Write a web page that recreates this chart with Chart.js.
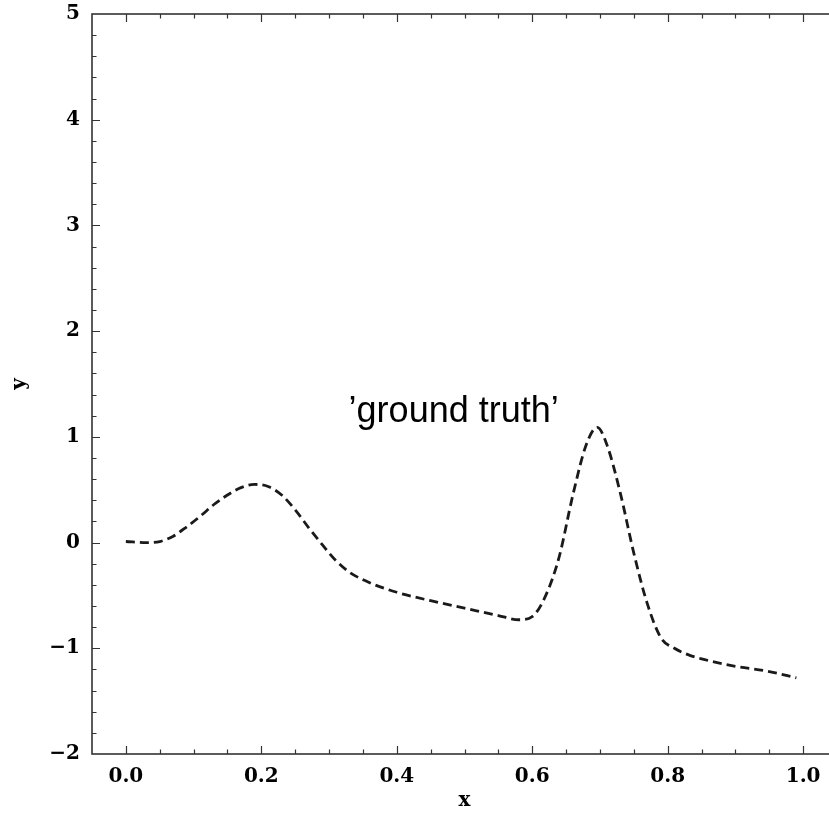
<!DOCTYPE html>
<html>
<head>
<meta charset="utf-8">
<script src="https://cdn.jsdelivr.net/npm/chart.js@4/dist/chart.umd.min.js"></script>
<style>
  html, body { margin: 0; padding: 0; overflow: hidden; background: #fff; }
  #wrap { width: 845px; height: 820px; }
</style>
</head>
<body>
<div id="wrap"><canvas id="chart" width="845" height="820"></canvas></div>
<script>
// Curve
const xValues = [0.00, 0.03, 0.05, 0.07, 0.09, 0.11, 0.13, 0.15, 0.17, 0.19, 0.21, 0.23, 0.25, 0.27, 0.29, 0.31, 0.33, 0.36,
  0.40, 0.45, 0.50, 0.55, 0.58, 0.60, 0.62, 0.64, 0.66, 0.68, 0.696, 0.71, 0.73, 0.75, 0.77, 0.79, 0.81, 0.83, 0.85, 0.90, 0.95, 0.99]
const yValues = [0.01, 0.00, 0.01, 0.06, 0.15, 0.25, 0.36, 0.45, 0.52, 0.55, 0.53, 0.45, 0.31, 0.14, -0.02, -0.17, -0.28, -0.38,
  -0.47, -0.55, -0.62, -0.69, -0.73, -0.70, -0.50, -0.13, 0.45, 0.93, 1.09, 0.93, 0.47, -0.10, -0.58, -0.90, -1.00, -1.06, -1.10, -1.17, -1.22, -1.28]

const xTickLabels = ['0.0', '0.2', '0.4', '0.6', '0.8', '1.0']
const yTickLabels = ['\u22122', '\u22121', '0', '1', '2', '3', '4', '5']
const curveLabel = '\u2019ground truth\u2019'
const curveLabelAt = { x: 0.484, y: 1.14 }

const serif = { family: '"DejaVu Serif", serif', size: 20, weight: 'bold' }

function near(v, step) {
  const k = Math.round(v / step)
  return Math.abs(v - k * step) < 1e-6 ? k : null
}

// the box is fixed by hand, so drop the label overflow padding chart.js adds
function noPad(s) {
  s.paddingTop = 0; s.paddingBottom = 0; s.paddingLeft = 0; s.paddingRight = 0
}

// Inward ticks on all four sides plus the box
const framePlugin = {
  id: 'frame',
  afterDraw(chart) {
    const { ctx, chartArea: a, scales: { x, y } } = chart
    ctx.save()
    ctx.strokeStyle = '#333'
    ctx.lineWidth = 1.2
    ctx.beginPath()
    for (const t of x.ticks) {
      const px = Math.round(x.getPixelForValue(t.value)) + 0.5
      if (px <= a.left + 1 || px >= a.right - 1) continue
      const len = t.label ? 8 : 4.5
      ctx.moveTo(px, a.bottom); ctx.lineTo(px, a.bottom - len)
      ctx.moveTo(px, a.top); ctx.lineTo(px, a.top + len)
    }
    for (const t of y.ticks) {
      const py = Math.round(y.getPixelForValue(t.value)) + 0.5
      if (py <= a.top + 1 || py >= a.bottom - 1) continue
      const len = t.label ? 8 : 4.5
      ctx.moveTo(a.left, py); ctx.lineTo(a.left + len, py)
      ctx.moveTo(a.right, py); ctx.lineTo(a.right - len, py)
    }
    ctx.stroke()
    ctx.lineWidth = 1.6
    ctx.strokeRect(a.left, a.top, a.right - a.left, a.bottom - a.top)
    ctx.restore()
  }
}

const textPlugin = {
  id: 'curveText',
  afterDatasetsDraw(chart) {
    const { ctx, scales: { x, y } } = chart
    ctx.save()
    ctx.fillStyle = '#000'
    ctx.font = '36px "Liberation Sans", Arial, sans-serif'
    ctx.textAlign = 'center'
    ctx.textBaseline = 'alphabetic'
    ctx.fillText(curveLabel, x.getPixelForValue(curveLabelAt.x), y.getPixelForValue(curveLabelAt.y))
    ctx.restore()
  }
}

new Chart(document.getElementById('chart'), {
  type: 'line',
  data: {
    datasets: [{
      data: xValues.map((v, i) => ({ x: v, y: yValues[i] })),
      borderColor: '#1a1a1a',
      borderWidth: 2.8,
      borderDash: [9, 5],
      pointRadius: 0,
      fill: false,
      cubicInterpolationMode: 'monotone'
    }]
  },
  options: {
    responsive: false,
    animation: false,
    layout: { padding: { top: 14, right: 8, left: 0, bottom: 0 } },
    plugins: { legend: { display: false }, tooltip: { enabled: false } },
    scales: {
      x: {
        type: 'linear', min: -0.05, max: 1.05,
        grid: { display: false, drawTicks: false },
        border: { display: false },
        ticks: {
          stepSize: 0.05, autoSkip: false, maxRotation: 0, padding: 11,
          color: '#000', font: serif,
          callback: v => { const k = near(v, 0.2); return k === null ? '' : (xTickLabels[k] || '') }
        },
        title: { display: true, text: 'x', color: '#000', font: serif, padding: { top: 0, bottom: 7 } },
        afterFit(s) { s.height = 66; noPad(s) }
      },
      y: {
        type: 'linear', min: -2, max: 5,
        grid: { display: false, drawTicks: false },
        border: { display: false },
        ticks: {
          stepSize: 0.2, autoSkip: false, padding: 12,
          color: '#000', font: serif,
          callback: v => { const k = near(v, 1); return k === null ? '' : (yTickLabels[k + 2] || '') }
        },
        title: { display: true, text: 'y', color: '#000', font: serif, padding: { top: 8, bottom: 0 } },
        afterFit(s) { s.width = 92; noPad(s) }
      }
    }
  },
  plugins: [framePlugin, textPlugin]
})
</script>
</body>
</html>
